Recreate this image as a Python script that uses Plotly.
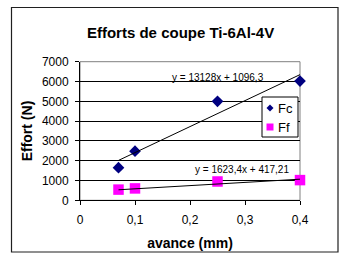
import plotly.graph_objects as go

# data
avance = [0.07, 0.1, 0.25, 0.4]
fc = [1650, 2480, 5000, 6020]
ff = [540, 600, 950, 1020]
fc_slope, fc_inter = 13128, 1096.3
ff_slope, ff_inter = 1623.4, 417.21
fc_eq = "y = 13128x + 1096,3"
ff_eq = "y = 1623,4x + 417,21"
xticks = [0, 0.1, 0.2, 0.3, 0.4]
yticks = [0, 1000, 2000, 3000, 4000, 5000, 6000, 7000]

W, H = 339, 253
L, R, T, B = 80, 300, 61.7, 200.3
FONT = "Liberation Sans, Arial, sans-serif"

# paper covers whole figure (zero margins); plot area set via axis domains
def px(p):
    return p / W

def py(p):
    return 1 - p / H

xs_fit = [min(avance), max(avance)]

fig = go.Figure()
fig.add_trace(go.Scatter(x=avance, y=fc, mode="markers", name="Fc",
                         marker=dict(symbol="diamond", size=9, color="#000080"),
                         cliponaxis=False, showlegend=False))
fig.add_trace(go.Scatter(x=avance, y=ff, mode="markers", name="Ff",
                         marker=dict(symbol="square", size=10.5, color="#FF00FF"),
                         cliponaxis=False, showlegend=False))
fig.add_trace(go.Scatter(x=xs_fit, y=[fc_slope * v + fc_inter for v in xs_fit],
                         mode="lines", line=dict(color="black", width=1),
                         showlegend=False, hoverinfo="skip"))
fig.add_trace(go.Scatter(x=xs_fit, y=[ff_slope * v + ff_inter for v in xs_fit],
                         mode="lines", line=dict(color="black", width=1),
                         showlegend=False, hoverinfo="skip"))

shapes = [
    # outer chart frame (left and top edges)
    dict(type="rect", xref="paper", yref="paper", x0=px(11.5), x1=px(338), y0=py(252), y1=py(7.5),
         line=dict(color="#202020", width=1.2), fillcolor="rgba(0,0,0,0)", layer="above"),
    # plot area border (grey)
    dict(type="rect", xref="x domain", yref="y domain", x0=0, x1=1, y0=0, y1=1,
         line=dict(color="#808080", width=1), layer="below"),
    # legend box
    dict(type="rect", xref="paper", yref="paper", x0=px(262), x1=px(298), y0=py(137), y1=py(97),
         line=dict(color="black", width=1), fillcolor="white", layer="above"),
    # legend diamond
    dict(type="path", xref="paper", yref="paper",
         path=f"M {px(266.5)} {py(108)} L {px(270)} {py(104.5)} L {px(273.5)} {py(108)} L {px(270)} {py(111.5)} Z",
         line=dict(width=0), fillcolor="#000080", layer="above"),
    # legend square
    dict(type="rect", xref="paper", yref="paper", x0=px(266.5), x1=px(273.5), y0=py(130.5), y1=py(123.5),
         line=dict(width=0), fillcolor="#FF00FF", layer="above"),
]

annotations = [
    dict(x=0.251, y=6227, xref="x", yref="y", text=fc_eq, showarrow=False,
         font=dict(size=10, color="black", family=FONT)),
    dict(x=0.2945, y=1581, xref="x", yref="y", text=ff_eq, showarrow=False,
         font=dict(size=10, color="black", family=FONT)),
    dict(x=px(276), y=py(108), xref="paper", yref="paper", text="Fc", showarrow=False,
         xanchor="left", yanchor="middle", font=dict(size=13, color="black", family=FONT)),
    dict(x=px(276), y=py(127), xref="paper", yref="paper", text="Ff", showarrow=False,
         xanchor="left", yanchor="middle", font=dict(size=13, color="black", family=FONT)),
]

fig.update_layout(
    width=W, height=H,
    margin=dict(l=0, r=0, t=0, b=0, pad=0),
    paper_bgcolor="white", plot_bgcolor="white",
    separators=", ",
    font=dict(family=FONT, size=12, color="black"),
    title=dict(text="<b>Efforts de coupe Ti-6Al-4V</b>", x=180.6 / W, xref="container",
               xanchor="center", y=1 - 32.5 / H, yref="container", yanchor="middle",
               font=dict(size=15, family=FONT, color="black")),
    showlegend=False,
    shapes=shapes,
    annotations=annotations,
    xaxis=dict(domain=[px(L), px(R)], range=[0, 0.4], tickvals=xticks,
               ticktext=[str(v).replace(".", ",") for v in xticks],
               showgrid=False, zeroline=False, showline=True, linecolor="black", linewidth=1,
               ticks="outside", ticklen=4, tickcolor="black", ticklabelstandoff=4,
               tickfont=dict(size=12), automargin=False,
               title=dict(text="<b>avance (mm)</b>", standoff=12, font=dict(size=14))),
    yaxis=dict(domain=[py(B), py(T)], range=[0, 7000], tickvals=yticks,
               showgrid=True, gridcolor="black", gridwidth=1,
               zeroline=False, showline=True, linecolor="black", linewidth=1,
               ticks="outside", ticklen=4, tickcolor="black", ticklabelstandoff=4,
               tickfont=dict(size=12), automargin=False,
               title=dict(text="<b>Effort (N)</b>", standoff=5, font=dict(size=14))),
)

fig.write_html("out.html", config={"displayModeBar": False},
               post_script="document.body.style.margin='0';document.body.style.padding='0';")
